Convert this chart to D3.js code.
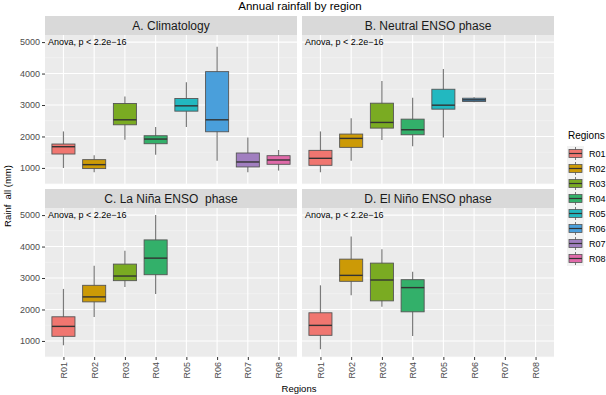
<!DOCTYPE html>
<html>
<head>
<meta charset="utf-8">
<script src="https://cdn.jsdelivr.net/npm/d3@7"></script>
<style>
  body { margin: 0; background: #fff; }
  text { font-family: "Liberation Sans", Arial, sans-serif; white-space: pre; }
</style>
</head>
<body>
<div id="viz-area"></div>
<script>
// facet boxplots, rainfall by region

const regions = ["R01", "R02", "R03", "R04", "R05", "R06", "R07", "R08"];
const regionColors = ["#f07670", "#cc9a06", "#7aab22", "#33b06a", "#22b8c0", "#4a9fdb", "#a17fc0", "#e06aa9"];
const panelTitles = ["A. Climatology", "B. Neutral ENSO phase", "C. La Niña ENSO  phase", "D. El Niño ENSO phase"];
const yTicks = [1000, 2000, 3000, 4000, 5000];

// [low whisker, q1, median, q3, high whisker], one row per region (null = no data)
const climatology = [
  [1000, 1443, 1675, 1760, 2161],
  [863, 980, 1105, 1264, 1400],
  [1897, 2372, 2530, 3047, 3270],
  [1422, 1770, 1918, 2024, 2298],
  [2298, 2805, 2974, 3206, 3723],
  [1232, 2150, 2530, 4061, 4852],
  [863, 1032, 1190, 1475, 1971],
  [916, 1116, 1253, 1390, 1570]
];
const neutral = [
  [863, 1084, 1306, 1559, 2161],
  [1232, 1654, 1939, 2077, 2583],
  [1887, 2266, 2446, 3058, 3765],
  [1686, 2055, 2214, 2551, 3227],
  [1971, 2868, 2995, 3501, 4145],
  [3090, 3111, 3164, 3216, 3248],
  null,
  null
];
const laNina = [
  [863, 1147, 1463, 1768, 2653],
  [1758, 2242, 2400, 2768, 3389],
  [2716, 2916, 3063, 3442, 3863],
  [2495, 3105, 3632, 4211, 5000],
  null, null, null, null
];
const elNino = [
  [737, 1179, 1495, 1895, 2768],
  [2453, 2895, 3084, 3600, 4316],
  [2084, 2274, 2937, 3474, 3916],
  [1158, 1926, 2695, 2947, 3200],
  null, null, null, null
];
const panelData = [climatology, neutral, laNina, elNino];

const W = 606, H = 395;
const COL_X = [45, 302], PANEL_W = 252;
const STRIP_Y = [16, 189], STRIP_H = 19, PLOT_H = 149;

const svg = d3.select("#viz-area").append("svg")
  .attr("width", W).attr("height", H);

const y = d3.scaleLinear().domain([490, 5225]);
const color = d3.scaleOrdinal().domain(regions).range(regionColors);

svg.append("text")
  .attr("x", 300).attr("y", 10)
  .attr("text-anchor", "middle")
  .style("font-size", "11.5px").attr("fill", "#000")
  .text("Annual rainfall by region");

panelData.forEach((data, i) => {
  const col = i % 2, row = Math.floor(i / 2);
  const x0 = COL_X[col], sy = STRIP_Y[row];
  const top = sy + STRIP_H, bottom = top + PLOT_H;
  const x = d3.scalePoint().domain(regions).range([x0, x0 + PANEL_W]).padding(0.6);
  const yy = y.copy().range([bottom, top]);
  const bw = x.step() * 0.75;

  const g = svg.append("g");
  // strip
  g.append("rect").attr("x", x0).attr("y", sy).attr("width", PANEL_W).attr("height", STRIP_H)
    .attr("fill", "#d9d9d9");
  g.append("text").attr("x", x0 + PANEL_W / 2).attr("y", sy + 14)
    .attr("text-anchor", "middle").style("font-size", "12px").attr("fill", "#1a1a1a")
    .text(panelTitles[i]);
  // panel bg
  g.append("rect").attr("x", x0).attr("y", top).attr("width", PANEL_W).attr("height", PLOT_H)
    .attr("fill", "#ebebeb");
  // minor grid
  const minor = d3.range(500, 5500, 1000).filter(v => yy(v) > top && yy(v) < bottom);
  g.selectAll(".minor").data(minor).enter().append("line")
    .attr("x1", x0).attr("x2", x0 + PANEL_W)
    .attr("y1", d => yy(d)).attr("y2", d => yy(d))
    .attr("stroke", "#f7f7f7").attr("stroke-width", 0.6);
  g.selectAll(".major").data(yTicks).enter().append("line")
    .attr("x1", x0).attr("x2", x0 + PANEL_W)
    .attr("y1", d => yy(d)).attr("y2", d => yy(d))
    .attr("stroke", "#fff").attr("stroke-width", 1.1);
  g.selectAll(".vgrid").data(regions).enter().append("line")
    .attr("x1", d => x(d)).attr("x2", d => x(d))
    .attr("y1", top).attr("y2", bottom)
    .attr("stroke", "#fff").attr("stroke-width", 1.1);

  // boxes
  const boxes = g.selectAll(".box").data(regions.map((r, j) => ({ r, s: data[j] })).filter(d => d.s))
    .enter().append("g");
  boxes.append("line")
    .attr("x1", d => x(d.r)).attr("x2", d => x(d.r))
    .attr("y1", d => yy(d.s[0])).attr("y2", d => yy(d.s[4]))
    .attr("stroke", "#7a7a7a").attr("stroke-width", 1.2);
  boxes.append("rect")
    .attr("x", d => x(d.r) - bw / 2).attr("width", bw)
    .attr("y", d => yy(d.s[3])).attr("height", d => Math.max(1, yy(d.s[1]) - yy(d.s[3])))
    .attr("fill", d => color(d.r))
    .attr("stroke", "#555").attr("stroke-width", 0.9);
  boxes.append("line")
    .attr("x1", d => x(d.r) - bw / 2).attr("x2", d => x(d.r) + bw / 2)
    .attr("y1", d => yy(d.s[2])).attr("y2", d => yy(d.s[2]))
    .attr("stroke", "#333").attr("stroke-width", 1.4);

  g.append("text").attr("x", x0 + 3).attr("y", top + 10)
    .style("font-size", "9px").attr("fill", "#000")
    .text("Anova, p < 2.2e\u221216");

  // y axis on left column
  if (col === 0) {
    const ax = g.append("g").attr("transform", `translate(${x0},0)`)
      .call(d3.axisLeft(yy).tickValues(yTicks).tickSize(3).tickPadding(2).tickFormat(d3.format("d")));
    ax.select(".domain").remove();
    ax.selectAll("line").attr("stroke", "#333");
    ax.selectAll("text").attr("fill", "#4d4d4d").style("font-size", "9px")
      .style("font-family", "'Liberation Sans', Arial, sans-serif");
  }
  // x axis on bottom row
  if (row === 1) {
    const ax = g.append("g").attr("transform", `translate(0,${bottom})`)
      .call(d3.axisBottom(x).tickSize(3).tickPadding(2));
    ax.select(".domain").remove();
    ax.selectAll("line").attr("stroke", "#333");
    ax.selectAll("text").attr("fill", "#4d4d4d").style("font-size", "9px")
      .style("font-family", "'Liberation Sans', Arial, sans-serif")
      .attr("transform", "rotate(-90)")
      .attr("text-anchor", "end")
      .attr("x", -5).attr("y", 0).attr("dy", "0.35em");
  }
});

// axis titles
svg.append("text").attr("x", 299).attr("y", 392)
  .attr("text-anchor", "middle").style("font-size", "9.5px").attr("fill", "#000")
  .text("Regions");
svg.append("text").attr("transform", "translate(11,196) rotate(-90)")
  .attr("text-anchor", "middle").style("font-size", "9.5px").attr("fill", "#000")
  .text("Rainf  all (mm)");

// legend
const leg = svg.append("g").attr("transform", "translate(567,0)");
leg.append("text").attr("x", 1).attr("y", 139)
  .style("font-size", "10px").attr("fill", "#000").text("Regions");
const keys = leg.selectAll(".key").data(regions).enter().append("g")
  .attr("transform", (d, i) => `translate(0,${146 + i * 15})`);
keys.append("rect").attr("width", 17).attr("height", 15).attr("fill", "#f2f2f2");
keys.append("line").attr("x1", 8.5).attr("x2", 8.5).attr("y1", 1).attr("y2", 14)
  .attr("stroke", "#7a7a7a").attr("stroke-width", 1);
keys.append("rect").attr("x", 2).attr("y", 3.5).attr("width", 13).attr("height", 8)
  .attr("fill", d => color(d)).attr("stroke", "#555").attr("stroke-width", 0.8);
keys.append("line").attr("x1", 2).attr("x2", 15).attr("y1", 7.5).attr("y2", 7.5)
  .attr("stroke", "#333").attr("stroke-width", 1.2);
keys.append("text").attr("x", 22).attr("y", 11)
  .style("font-size", "9px").attr("fill", "#000").text(d => d);
</script>
</body>
</html>
